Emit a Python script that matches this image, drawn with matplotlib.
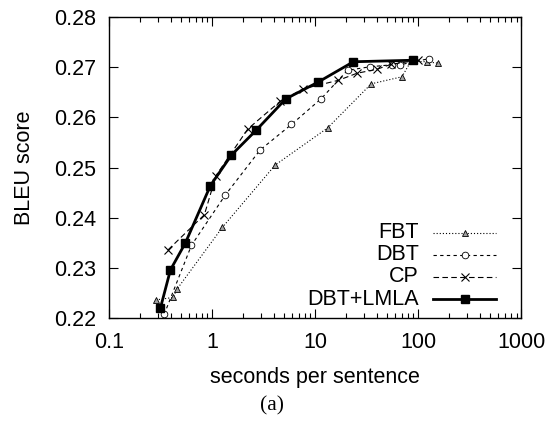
import matplotlib

matplotlib.use("Agg")
import matplotlib.pyplot as plt
from matplotlib.lines import Line2D
from matplotlib.ticker import FixedLocator, LogLocator, NullFormatter, NullLocator

plt.rcParams["font.family"] = ["Liberation Sans", "DejaVu Sans"]

# FBT: full beam thresholding (grey triangles, dotted)
fbt_x = [0.284, 0.418, 0.454, 1.26, 4.09, 13.2, 35.0, 69.5, 85.0, 121, 157]
fbt_y = [0.2236, 0.2241, 0.2257, 0.2381, 0.2505, 0.2579, 0.2667, 0.2681, 0.2712, 0.2711, 0.2708]

# DBT (open circles, short dashes)
dbt_x = [0.342, 0.630, 1.34, 2.92, 5.89, 11.4, 20.6, 34.2, 55.5, 66.8, 126]
dbt_y = [0.2207, 0.2345, 0.2445, 0.2535, 0.2586, 0.2637, 0.2694, 0.2701, 0.2705, 0.2705, 0.2717]

# CP (crosses, dashed)
cp_x = [0.374, 0.841, 1.09, 2.22, 4.57, 7.64, 16.8, 25.4, 39.7, 54.7, 100]
cp_y = [0.2336, 0.2406, 0.2484, 0.2577, 0.2632, 0.2657, 0.2674, 0.2688, 0.2696, 0.2706, 0.2714]

# DBT+LMLA (filled squares, solid thick)
lmla_x = [0.315, 0.394, 0.551, 0.962, 1.54, 2.69, 5.19, 10.6, 23.5, 88.8]
lmla_y = [0.2220, 0.2296, 0.2350, 0.2464, 0.2525, 0.2575, 0.2637, 0.2670, 0.2711, 0.2714]

x_ticks = [0.1, 1, 10, 100, 1000]
x_labels = ["0.1", "1", "10", "100", "1000"]
y_ticks = [0.22, 0.23, 0.24, 0.25, 0.26, 0.27, 0.28]

FS = 15.5


def main() -> None:
    fig = plt.figure(figsize=(5.51, 4.28), dpi=100)
    ax = fig.add_axes([0.198, 0.257, 0.748, 0.703])

    styles = [
        (fbt_x, fbt_y, "FBT", dict(color="black", lw=0.8, ls=(0, (1, 1.8)), marker="^",
                                   ms=4.8, mfc="#a0a0a0", mec="black", mew=0.6)),
        (dbt_x, dbt_y, "DBT", dict(color="black", lw=0.8, ls=(0, (3, 3)), marker="o",
                                   ms=4.8, mfc="white", mec="black", mew=0.6)),
        (cp_x, cp_y, "CP", dict(color="black", lw=0.8, ls=(0, (5, 3)), marker="x",
                                ms=5.5, mec="black", mew=0.8)),
        (lmla_x, lmla_y, "DBT+LMLA", dict(color="black", lw=2.0, ls="-", marker="s",
                                         ms=5.2, mfc="black", mec="black")),
    ]
    for xs, ys, name, kw in styles:
        ax.plot(xs, ys, **kw)

    ax.set_xscale("log")
    ax.set_xlim(0.1, 1000)
    ax.set_ylim(0.22, 0.28)
    ax.xaxis.set_major_locator(FixedLocator(x_ticks))
    ax.set_xticklabels(x_labels)
    ax.xaxis.set_minor_locator(LogLocator(base=10, subs=range(2, 10)))
    ax.xaxis.set_minor_formatter(NullFormatter())
    ax.set_yticks(y_ticks)
    ax.set_yticklabels([f"{v:.2f}" for v in y_ticks])
    ax.yaxis.set_minor_locator(NullLocator())

    ax.tick_params(which="both", direction="in", top=True, right=True,
                   labelsize=FS, width=0.8)
    ax.tick_params(which="major", length=6.5)
    ax.tick_params(axis="x", which="major", pad=10)
    ax.tick_params(axis="y", which="major", pad=9)
    ax.tick_params(which="minor", length=3.5)
    for s in ax.spines.values():
        s.set_linewidth(1.0)

    ax.set_xlabel("seconds per sentence", fontsize=FS, labelpad=10)
    ax.set_ylabel("BLEU score", fontsize=FS, labelpad=14)

    # gnuplot style key: right-aligned labels, sample line to the right
    rows = [0.283, 0.210, 0.137, 0.063]
    x0, x1, xt = 0.786, 0.939, 0.752
    for (xs, ys, name, kw), yr in zip(styles, rows):
        ax.add_line(Line2D([x0, (x0 + x1) / 2, x1], [yr, yr, yr], transform=ax.transAxes,
                           markevery=[1], **kw))
        ax.text(xt, yr, name, transform=ax.transAxes, ha="right", va="center", fontsize=FS)

    fig.text(0.494, 0.052, "(a)", ha="center", va="center", fontsize=15.5,
             family=["Liberation Serif", "DejaVu Serif"])

    fig.savefig("out.png", dpi=100)
    plt.close(fig)


if __name__ == "__main__":
    main()
